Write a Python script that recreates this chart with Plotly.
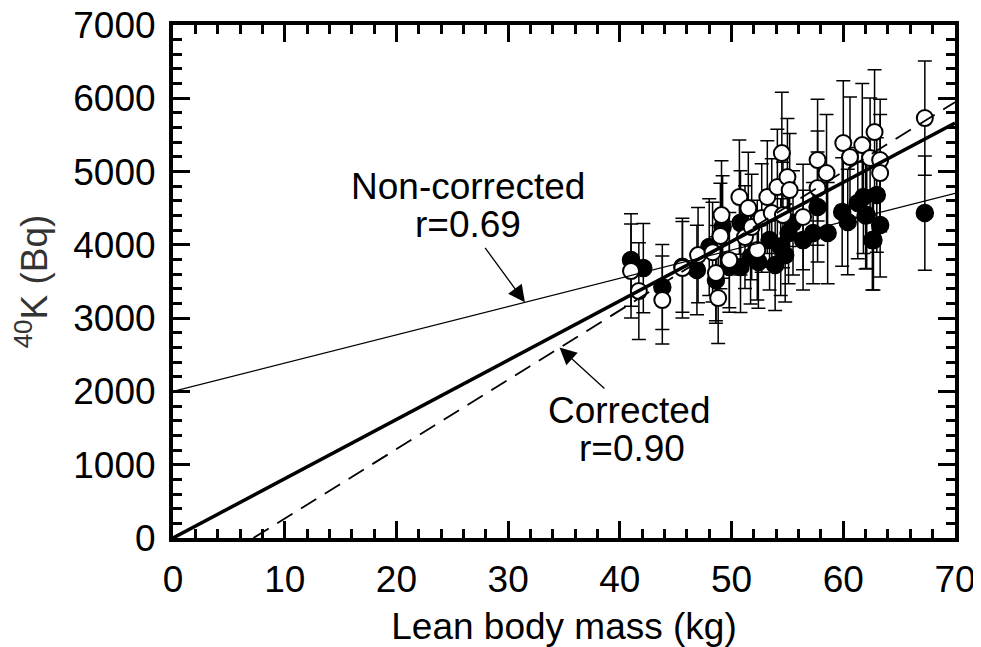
import plotly.graph_objects as go

# Non-corrected (filled circles)
nc_x = [41.0, 42.1, 43.8, 45.6, 46.9, 48.0, 48.6, 49.2, 49.8, 50.8, 50.8, 51.7, 52.4, 53.4, 53.9, 54.4, 54.8,
        55.1, 55.5, 56.4, 57.3, 57.7, 58.6, 59.9, 60.4, 61.3, 61.8, 62.0, 62.6, 63.0, 62.1, 63.3, 62.7, 67.3]
nc_y = [3793, 3683, 3424, 3700, 3656, 3970, 3520, 4243, 3700, 3697, 4300, 3834, 3765, 4065, 3724, 3970, 3860,
        4161, 4300, 4065, 4161, 4516, 4161, 4448, 4311, 4570, 4652, 4400, 4065, 4680, 4406, 4270, 4065, 4434]
nc_err = [630, 610, 580, 620, 610, 660, 590, 700, 620, 620, 710, 640, 630, 680, 620, 660, 640,
          690, 710, 680, 690, 750, 690, 740, 720, 760, 770, 730, 680, 780, 730, 710, 680, 780]

# Corrected (open circles)
c_x = [41.0, 41.7, 43.8, 45.6, 47.0, 48.3, 48.6, 48.8, 49.0, 49.1, 49.8, 50.7, 51.2, 51.5, 51.8, 52.3, 52.7, 53.2,
       53.6, 54.1, 54.5, 54.6, 55.0, 55.2, 56.4, 57.7, 57.7, 58.5, 60.0, 60.6, 61.7, 62.4, 62.8, 63.3, 63.3, 67.3]
c_y = [3643, 3370, 3247, 3683, 3860, 3900, 3615, 3274, 4120, 4406, 3793, 4652, 4106, 4502, 4243, 3929, 4366, 4652,
       4434, 4789, 5252, 4406, 4925, 4748, 4380, 5157, 4775, 4980, 5389, 5198, 5361, 5184, 5539, 5157, 4980, 5730]
c_err = [640, 660, 600, 680, 650, 680, 650, 620, 720, 740, 650, 780, 700, 760, 720, 680, 740, 770,
         740, 790, 830, 720, 800, 770, 720, 830, 780, 800, 850, 820, 840, 820, 850, 830, 800, 780]

# Regression lines (intercept, slope) and x ranges
nc_fit = (2000, 38.6)
c_fit = (0, 80.9)
dash_fit = (-682, 94.7)
nc_range = [0, 70]
c_range = [0, 70]
dash_range = [7.2, 70]

FONT = "Liberation Sans, Arial, sans-serif"
FS = 37
fig = go.Figure()

fig.add_trace(go.Scatter(
    x=nc_x, y=nc_y, mode="markers",
    error_y=dict(type="data", array=nc_err, width=7, thickness=1.5, color="black"),
    marker=dict(size=17, color="black", line=dict(color="black", width=1.5)),
    showlegend=False))
fig.add_trace(go.Scatter(
    x=c_x, y=c_y, mode="markers",
    error_y=dict(type="data", array=c_err, width=7, thickness=1.5, color="black"),
    marker=dict(size=16, color="white", line=dict(color="black", width=2)),
    showlegend=False))

def line_y(fit, xs):
    return [fit[0] + fit[1] * x for x in xs]

fig.add_trace(go.Scatter(x=nc_range, y=line_y(nc_fit, nc_range), mode="lines",
                         line=dict(color="black", width=1.2), showlegend=False))
fig.add_trace(go.Scatter(x=c_range, y=line_y(c_fit, c_range), mode="lines",
                         line=dict(color="black", width=3.5), showlegend=False))
fig.add_trace(go.Scatter(x=dash_range, y=line_y(dash_fit, dash_range), mode="lines",
                         line=dict(color="black", width=1.8, dash="18px,10px"), showlegend=False))

axis_common = dict(
    showgrid=False, zeroline=False, showline=True, linecolor="black", linewidth=4,
    mirror="allticks", ticks="inside", ticklen=17, tickwidth=3, tickcolor="black",
    tickfont=dict(family=FONT, size=FS, color="black"), automargin=False,
    ticklabeloverflow="allow",
)
fig.update_xaxes(range=[0, 70], dtick=10, **axis_common, ticklabelstandoff=6,
                 minor=dict(dtick=2, ticks="inside", ticklen=9, tickwidth=3, tickcolor="black"),
                 title=dict(text="Lean body mass (kg)", font=dict(family=FONT, size=FS, color="black"),
                            standoff=15))
fig.update_yaxes(range=[0, 7000], dtick=1000, **axis_common, ticklabelstandoff=6,
                 minor=dict(dtick=200, ticks="inside", ticklen=9, tickwidth=3, tickcolor="black"),
                 title=dict(text="<sup>40</sup>K (Bq)", font=dict(family=FONT, size=FS, color="#333"),
                            standoff=15))

# Non-corrected label (second line carries the arrow)
fig.add_annotation(x=26.4, y=4800, xref="x", yref="y", showarrow=False,
                   text="Non-corrected", font=dict(family=FONT, size=FS, color="black"))
fig.add_annotation(x=31.5, y=2000 + 38.6 * 31.5, xref="x", yref="y", ax=-57, ay=-78,
                   axref="pixel", ayref="pixel", showarrow=True, arrowhead=2, arrowsize=2.6,
                   arrowwidth=1.3, arrowcolor="black", standoff=0, startstandoff=2,
                   text="r=0.69", font=dict(family=FONT, size=FS, color="black"))
# Corrected label (first line carries the arrow)
fig.add_annotation(x=34.6, y=2598, xref="x", yref="y", ax=69, ay=63,
                   axref="pixel", ayref="pixel", showarrow=True, arrowhead=2, arrowsize=2.6,
                   arrowwidth=1.3, arrowcolor="black", standoff=0, startstandoff=0,
                   text="Corrected", font=dict(family=FONT, size=FS, color="black"))
fig.add_annotation(x=41.1, y=1220, xref="x", yref="y", showarrow=False,
                   text="r=0.90", font=dict(family=FONT, size=FS, color="black"))

# page body adds an 8px offset; margins compensate so the frame lands at 173..955 x 25..538
fig.update_layout(
    width=981, height=647,
    margin=dict(l=165, r=34, t=17, b=117),
    paper_bgcolor="white", plot_bgcolor="white",
    font=dict(family=FONT),
)

fig.write_html("out.html")
